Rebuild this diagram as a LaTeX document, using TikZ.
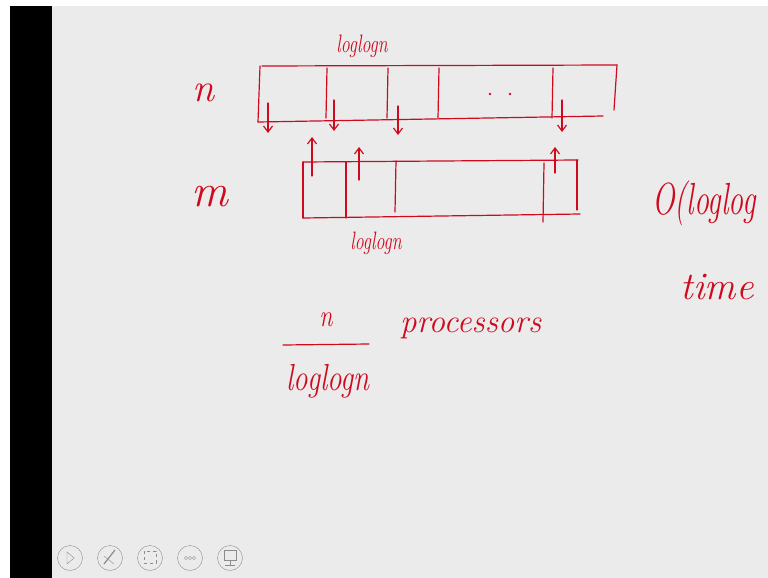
\documentclass[tikz,border=0pt]{standalone}
\usepackage{tikz}
\usetikzlibrary{arrows.meta}
\definecolor{ink}{RGB}{208,10,30}
\definecolor{board}{RGB}{235,235,235}
\definecolor{icongray}{RGB}{140,140,140}
\newcommand{\handsize}[1]{\fontsize{#1}{#1}\selectfont\itshape}
\tikzset{
  pen/.style={ink, line width=1.2pt, line cap=round},
  hand/.style={ink, inner sep=0pt},
  tip/.style={-{Straight Barb[length=6pt,width=9pt]}}
}
\begin{document}
\begin{tikzpicture}[x=1pt,y=-1pt]
\useasboundingbox (0,0) rectangle (768,578);
\clip (0,0) rectangle (768,578);
\fill[white] (0,0) rectangle (768,578);
\fill[board] (52,6) rectangle (768,578);
\fill[black] (10,6) rectangle (52,578);

% array n
\draw[pen] (262,66) -- (617,65);
\draw[pen] (258,122) -- (603,116);
\draw[pen] (260,66) -- (258,122);
\draw[pen] (617,65) -- (614,110);
\foreach \x in {327,388,439,553}{
  \draw[pen] (\x,68) -- (\x-1,118);
}
\fill[ink] (490,94) circle (1.3) (510,94) circle (1.3);
\foreach \x/\a/\b in {268/103/133,334/100/131,398/106/135,562/100/132}{
  \draw[pen,tip] (\x,\a) -- (\x,\b);
}
\node[hand, font=\handsize{18}] (topsize) at (362,46) {\scalebox{1}[1.4]{loglogn}};
\node[hand, font=\handsize{40}] (nlab) at (203,93) {n};

% array m
\draw[pen] (303,162) -- (578,160);
\draw[pen] (303,218) -- (580,214);
\draw[pen] (303,162) -- (303,218);
\draw[pen] (577,160) -- (577,210);
\draw[pen] (346,162) -- (346,218);
\draw[pen] (396,161) -- (395,212);
\draw[pen] (544,163) -- (543,222);
\foreach \x/\a/\b in {312/176/137,359/180/147,555/173/147}{
  \draw[pen,tip] (\x,\a) -- (\x,\b);
}
\node[hand, font=\handsize{18}] (botsize) at (376,243) {\scalebox{1}[1.4]{loglogn}};
\node[hand, font=\handsize{46}] (mlab) at (210,197) {m};

% right side
\node[hand, anchor=west, font=\handsize{30}] (bound) at (652,203) {\scalebox{1}[1.5]{O(loglog}};
\node[hand, font=\handsize{39}] (timelab) at (717,287) {time};

% processors
\node[hand, font=\handsize{24}] (num) at (326,320) {\scalebox{1}[1.3]{n}};
\draw[pen] (283,345) -- (369,344);
\node[hand, font=\handsize{29}] (den) at (328,381) {\scalebox{1}[1.3]{loglogn}};
\node[hand, anchor=west, font=\handsize{33}] (proc) at (400,328) {processors};

% toolbar
\foreach \x/\name in {70/play,110/pen,150/shot,190/more,230/screen}{
  \node[draw=icongray, circle, minimum size=25pt, inner sep=0pt] (\name) at (\x,558) {};
}
\draw[icongray] (67,552) -- (74,558) -- (67,564) -- cycle;
\draw[icongray, line width=1.2pt] (104,564) -- (115,550);
\draw[icongray] (104,556) -- (114,564);
\draw[icongray, dashed] (144,551) rectangle (156,563);
\foreach \d in {-4,0,4}{ \draw[icongray] (190+\d,558) circle (1.6); }
\draw[icongray] (224,550) rectangle (236,560) (230,560) -- (230,565) (225,565) -- (235,565);
\end{tikzpicture}
\end{document}
